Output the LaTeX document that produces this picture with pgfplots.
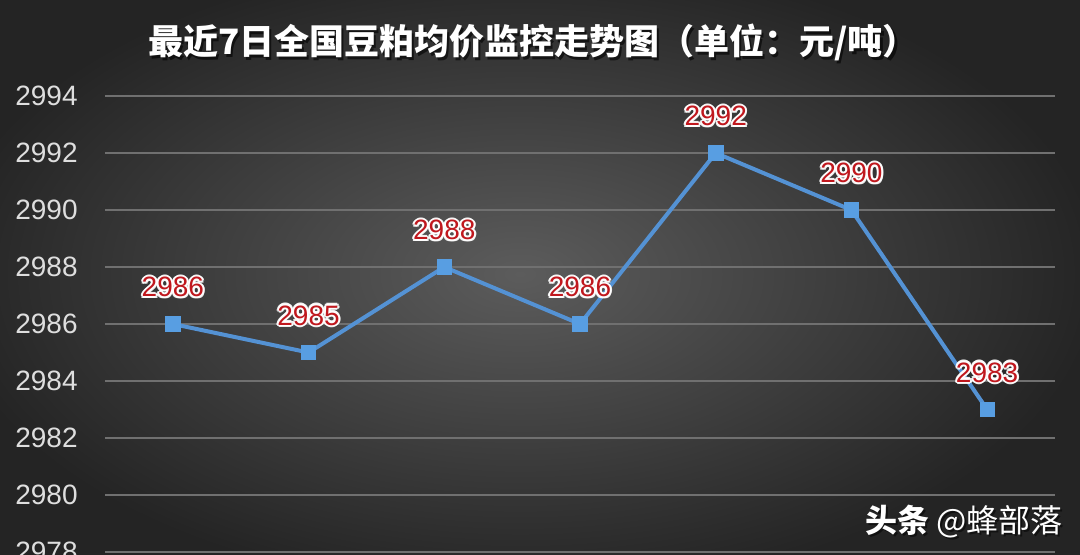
\documentclass[border=0pt]{standalone}
\usepackage{pgfplots}
\pgfplotsset{compat=1.18}
\usepackage{pgfplotstable}
\usepackage{fontspec}
\setmainfont{Liberation Sans}
\newfontfamily\cjk{Noto Sans CJK SC}
\definecolor{bgin}{RGB}{92,92,92}
\definecolor{bgout}{RGB}{36,36,36}
\definecolor{lineblue}{RGB}{84,146,212}
\definecolor{markblue}{RGB}{88,158,226}
\definecolor{labred}{RGB}{192,24,30}
\definecolor{gridc}{RGB}{112,112,112}
\definecolor{tickc}{RGB}{222,222,222}
\pgfplotstableread{
x y
0 2986
1 2985
2 2988
3 2986
4 2992
5 2990
6 2983
}\data
\pgfkeys{/pgf/number format/1000 sep={}}
\begin{document}
\begin{tikzpicture}[x=0.5pt,y=0.5pt]
\path[use as bounding box] (0,0) rectangle (1080,554);
\clip (0,0) rectangle (1080,554);
\shade[inner color=bgin, outer color=bgout] (-60,-40) rectangle (1100,600);
\begin{axis}[
  at={(52.5pt,1pt)}, anchor=south west,
  scale only axis, width=475pt, height=228pt,
  xmin=-0.5, xmax=6.5, ymin=2978, ymax=2994,
  ytick distance=2, xtick=\empty,
  axis line style={draw=none},
  major tick style={draw=none},
  ymajorgrids, major grid style={gridc, line width=0.7pt},
  /pgf/number format/assume math mode=true,
  yticklabel style={anchor=east, inner sep=0pt, xshift=-13.5pt, text=tickc, font=\fontsize{14}{16}\selectfont},
  clip=false,
  halo/.style={draw=none, mark=none, forget plot, nodes near coords,
     every node near coord/.append style={anchor=center, yshift=18.5pt, shift={(#1)}, text=white, opacity=0.9, font=\fontsize{14}{16}\selectfont}},
]
\addplot[halo={1.1pt,0pt}] table[x=x,y=y] {\data};
\addplot[halo={-1.1pt,0pt}] table[x=x,y=y] {\data};
\addplot[halo={0pt,1.1pt}] table[x=x,y=y] {\data};
\addplot[halo={0pt,-1.1pt}] table[x=x,y=y] {\data};
\addplot[halo={0.8pt,0.8pt}] table[x=x,y=y] {\data};
\addplot[halo={-0.8pt,0.8pt}] table[x=x,y=y] {\data};
\addplot[halo={0.8pt,-0.8pt}] table[x=x,y=y] {\data};
\addplot[halo={-0.8pt,-0.8pt}] table[x=x,y=y] {\data};
\addplot[lineblue, line width=2pt, mark=square*, mark size=3.6pt,
  mark options={fill=markblue, draw=markblue, line width=0.4pt}] table[x=x,y=y] {\data};
\addplot[draw=none, mark=none, nodes near coords,
  every node near coord/.append style={anchor=center, yshift=18.5pt, text=labred, font=\fontsize{14}{16}\selectfont}] table[x=x,y=y] {\data};
\end{axis}
\node[text=black, opacity=0.6] at (535.5,509) {\cjk\bfseries\fontsize{17.5}{20}\selectfont 最近7日全国豆粕均价监控走势图（单位：元/吨）};
\node[text=white] at (533,512) {\cjk\bfseries\fontsize{17.5}{20}\selectfont 最近7日全国豆粕均价监控走势图（单位：元/吨）};
\node[text=black, opacity=0.5, anchor=east] at (1072,30) {\cjk\fontsize{16}{18}\selectfont{\bfseries 头条} @蜂部落};
\node[text=white, anchor=east] at (1070,32) {\cjk\fontsize{16}{18}\selectfont{\bfseries 头条} @蜂部落};
\end{tikzpicture}
\end{document}
